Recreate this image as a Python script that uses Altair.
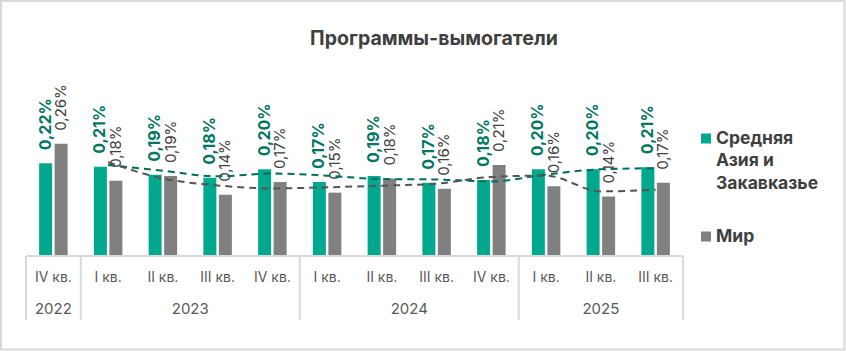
import altair as alt
import pandas as pd

# ---------------- data ----------------
title_text = "Программы-вымогатели"
quarters = ["IV кв.", "I кв.", "II кв.", "III кв.", "IV кв.",
            "I кв.", "II кв.", "III кв.", "IV кв.",
            "I кв.", "II кв.", "III кв."]
years = ["2022", "2023", "2023", "2023", "2023",
         "2024", "2024", "2024", "2024",
         "2025", "2025", "2025"]
series = ["Средняя Азия и Закавказье", "Мир"]
legend_text = ["Средняя\nАзия и\nЗакавказье", "Мир"]
region_vals = [0.218, 0.210, 0.191, 0.184, 0.204, 0.174, 0.188, 0.172, 0.179, 0.204, 0.204, 0.209]
world_vals = [0.264, 0.177, 0.188, 0.144, 0.174, 0.149, 0.182, 0.158, 0.214, 0.164, 0.140, 0.172]

# ---------------- styles ----------------
FONT = "Inter"
GREEN = "#00A88E"
GRAY = "#808080"
GREEN_TXT = "#00775F"
GRAY_TXT = "#404040"
GREEN_LINE = "#006E58"
GRAY_LINE = "#555555"
GRID = "#D9D9D9"
W, H = 657, 196
PAD_L, PAD_T = 26, 60

rows = []
for i, (q, y) in enumerate(zip(quarters, years)):
    rows.append(dict(idx=i, quarter=q, year=y, series=series[0], value=region_vals[i]))
    rows.append(dict(idx=i, quarter=q, year=y, series=series[1], value=world_vals[i]))
df = pd.DataFrame(rows)

n = len(quarters)
qdf = pd.DataFrame({"pos": [i + 0.5 for i in range(n)], "quarter": quarters})
yg = (pd.DataFrame({"year": years, "i": range(n)})
      .groupby("year")["i"].agg(["min", "max"]).reset_index())
yg["start"] = yg["min"]
yg["end"] = yg["max"] + 1
yg["mid"] = (yg["start"] + yg["end"]) / 2
bounds = pd.DataFrame({"pos": sorted(set(yg["start"]).union(set(yg["end"])))})
base_df = pd.DataFrame({"start": [0], "end": [n]})
title_df = pd.DataFrame({"t": [title_text]})

# ---------------- encodings ----------------
x_band = alt.X("idx:O", scale=alt.Scale(domain=list(range(n)), paddingInner=0, paddingOuter=0), axis=None)
y_enc = alt.Y("value:Q", scale=alt.Scale(domain=[0, 0.461], nice=False, zero=True), axis=None)
x_off = alt.XOffset("series:N", scale=alt.Scale(domain=series, paddingInner=0.161, paddingOuter=0.847))
color_enc = alt.Color("series:N", scale=alt.Scale(domain=series, range=[GREEN, GRAY]), legend=None)

bars = alt.Chart(df).mark_bar().encode(x=x_band, y=y_enc, xOffset=x_off, color=color_enc)

lbl_expr = "replace(format(datum.value, '.2f'), '.', ',') + '%'"
labels_r = (alt.Chart(df)
            .transform_filter(alt.datum.series == series[0])
            .transform_calculate(lbl=lbl_expr)
            .mark_text(angle=270, align="left", baseline="middle", dx=13,
                       font=FONT, fontSize=16, fontWeight="bold", color=GREEN_TXT)
            .encode(x=x_band, y=y_enc, xOffset=x_off, text="lbl:N"))
labels_w = (alt.Chart(df)
            .transform_filter(alt.datum.series == series[1])
            .transform_calculate(lbl=lbl_expr)
            .mark_text(angle=270, align="left", baseline="middle", dx=13,
                       font=FONT, fontSize=15, fontWeight="normal", color=GRAY_TXT)
            .encode(x=x_band, y=y_enc, xOffset=x_off, text="lbl:N"))

lines = (alt.Chart(df)
         .transform_window(ma="mean(value)", frame=[-1, 0], groupby=["series"],
                           sort=[alt.SortField("idx")])
         .transform_filter(alt.datum.idx >= 1)
         .mark_line(strokeDash=[7, 5], strokeWidth=2, interpolate="monotone")
         .encode(x=x_band,
                 y=alt.Y("ma:Q", scale=alt.Scale(domain=[0, 0.461], nice=False, zero=True), axis=None),
                 stroke=alt.Stroke("series:N", scale=alt.Scale(domain=series, range=[GREEN_LINE, GRAY_LINE]),
                                   legend=None),
                 detail="series:N"))

band_layer = alt.layer(bars, labels_r, labels_w, lines)

# ---------------- category axis (two levels) ----------------
xq_scale = alt.Scale(domain=[0, n], nice=False, zero=False)
qlabels = alt.Chart(qdf).mark_text(font=FONT, fontSize=14, color="#595959", baseline="middle").encode(
    x=alt.X("pos:Q", scale=xq_scale, axis=None), y=alt.value(218), text="quarter:N")
ylabels = alt.Chart(yg).mark_text(font=FONT, fontSize=15, color="#595959", baseline="middle").encode(
    x=alt.X("mid:Q", scale=xq_scale, axis=None), y=alt.value(249), text="year:N")
seps = alt.Chart(bounds).mark_rule(color=GRID, strokeWidth=2).encode(
    x=alt.X("pos:Q", scale=xq_scale, axis=None), y=alt.value(H), y2=alt.value(260))
hline = alt.Chart(base_df).mark_rule(color=GRID, strokeWidth=2).encode(
    x=alt.X("start:Q", scale=xq_scale, axis=None), x2="end:Q", y=alt.value(H))
axis_layer = alt.layer(hline, seps, qlabels, ylabels)

# ---------------- legend ----------------
leg_df0 = pd.DataFrame({"series": [series[0]], "txt": [legend_text[0]]})
leg_df1 = pd.DataFrame({"series": [series[1]], "txt": [legend_text[1]]})
leg_sq0 = alt.Chart(leg_df0).mark_square(size=100, opacity=1).encode(
    x=alt.value(680), y=alt.value(78.5), color=color_enc)
leg_sq1 = alt.Chart(leg_df1).mark_square(size=100, opacity=1).encode(
    x=alt.value(680), y=alt.value(176.5), color=color_enc)
leg_txt0 = alt.Chart(leg_df0).mark_text(align="left", baseline="alphabetic", lineBreak="\n", lineHeight=22.5,
                                       font=FONT, fontSize=17.5, fontWeight="bold", color=GRAY_TXT).encode(
    x=alt.value(690), y=alt.value(83.5), text="txt:N")
leg_txt1 = alt.Chart(leg_df1).mark_text(align="left", baseline="alphabetic",
                                       font=FONT, fontSize=17.5, fontWeight="bold", color=GRAY_TXT).encode(
    x=alt.value(690), y=alt.value(182), text="txt:N")

title = alt.Chart(title_df).mark_text(align="center", baseline="alphabetic", font=FONT, fontSize=19.5,
                                      fontWeight="bold", color=GRAY_TXT).encode(
    x=alt.value(434 - PAD_L), y=alt.value(45 - PAD_T), text="t:N")

border = alt.Chart(base_df).mark_rect(fillOpacity=0, stroke=GRID, strokeWidth=2).encode(
    x=alt.value(1 - PAD_L), x2=alt.value(844.5 - PAD_L), y=alt.value(1 - PAD_T), y2=alt.value(349.5 - PAD_T))

chart = (alt.layer(band_layer, axis_layer, leg_sq0, leg_sq1, leg_txt0, leg_txt1, title, border)
         .resolve_scale(x="independent")
         .properties(
             width=W, height=H,
             autosize=alt.AutoSizeParams(type="none"),
             padding={"left": PAD_L, "top": PAD_T, "right": 846 - PAD_L - W, "bottom": 351 - PAD_T - H},
             background="white")
         .configure_view(stroke=None))

chart.save("out.html", embed_options={"renderer": "svg", "actions": False})
